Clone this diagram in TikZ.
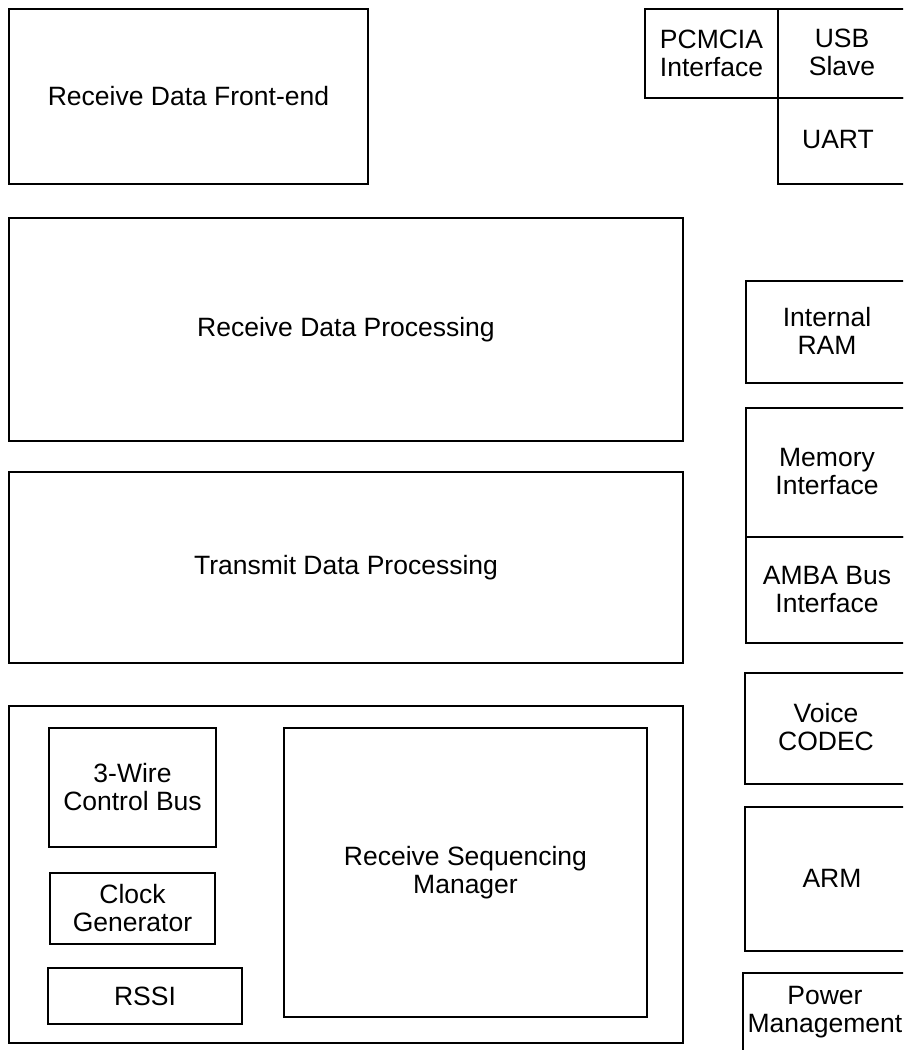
\documentclass[tikz,border=0pt]{standalone}
\usepackage{fontspec}
\setmainfont{Liberation Sans}
\begin{document}
\begin{tikzpicture}[x=1pt,y=-1pt,
  blk/.style={draw, line width=2pt, anchor=north west, inner sep=0pt, align=center},
  lbl/.style={align=center, inner sep=0pt},
  every node/.append style={font=\fontsize{26.5}{28}\selectfont}]
\useasboundingbox (0,0) rectangle (903,1050);
\clip (0,0) rectangle (903,1050);
% left column
\node[blk, minimum width=359, minimum height=175] (rdfe) at (8,8) {Receive Data Front-end};
\node[blk, minimum width=674, minimum height=223] (rdp) at (8,217) {Receive Data Processing};
\node[blk, minimum width=674, minimum height=191] (tdp) at (8,471) {Transmit Data Processing};
\node[blk, minimum width=674, minimum height=337] (outer) at (8,705) {};
\node[blk, minimum width=167, minimum height=119] (wire) at (48,727) {3-Wire\\Control Bus};
\node[blk, minimum width=165, minimum height=71] (clk) at (49,872) {Clock\\Generator};
\node[blk, minimum width=194, minimum height=56] (rssi) at (47,967) {RSSI};
\node[blk, minimum width=363, minimum height=289] (rsm) at (283,727) {Receive Sequencing\\Manager};
% top right
\node[blk, minimum width=133, minimum height=89] (pcmcia) at (644,8) {PCMCIA\\Interface};
\node[blk, minimum width=140, minimum height=89] (usb) at (777,8) {};
\node[blk, minimum width=140, minimum height=86] (uart) at (777,97) {};
\node[lbl] (usbt) at (842,52) {USB\\Slave};
\node[lbl] (uartt) at (838,140) {UART};
% right column
\node[blk, minimum width=170, minimum height=102] (iram) at (745,280) {};
\node[blk, minimum width=170, minimum height=129] (memif) at (745,407) {};
\node[blk, minimum width=170, minimum height=106] (amba) at (745,536) {};
\node[blk, minimum width=170, minimum height=111] (voice) at (744,672) {};
\node[blk, minimum width=170, minimum height=144] (arm) at (744,806) {};
\node[blk, minimum width=170, minimum height=100] (pm) at (742,972) {};
\node[lbl] (iramt) at (827,331) {Internal\\RAM};
\node[lbl] (memift) at (827,472) {Memory\\Interface};
\node[lbl] (ambat) at (827,590) {AMBA Bus\\Interface};
\node[lbl] (voicet) at (826,727) {Voice\\CODEC};
\node[lbl] (armt) at (832,878) {ARM};
\node[lbl] (pmt) at (825,1012) {Power\\Management};
\end{tikzpicture}
\end{document}
